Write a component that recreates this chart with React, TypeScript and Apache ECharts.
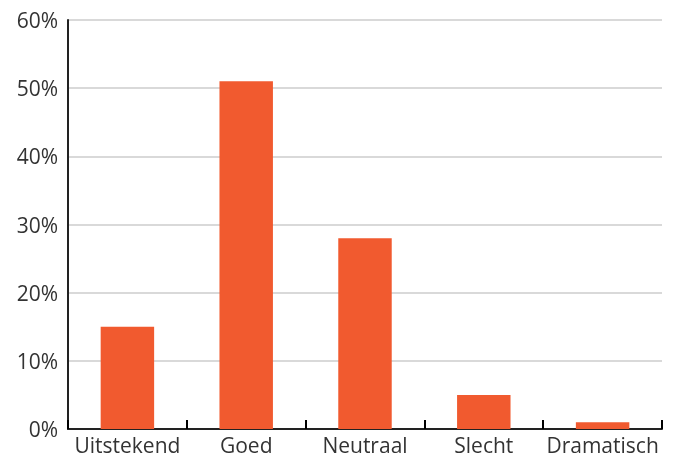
import React, { useEffect, useRef } from "react";
import * as echarts from "echarts";

const categories = ["Uitstekend", "Goed", "Neutraal", "Slecht", "Dramatisch"];
const values = [15, 51, 28, 5, 1];
const yTicks = [0, 10, 20, 30, 40, 50, 60];

export default function App() {
  const ref = useRef<HTMLDivElement>(null);
  useEffect(() => {
    const chart = echarts.init(ref.current!, undefined, { renderer: "svg" });
    chart.setOption({
      animation: false,
      grid: { left: 68, right: 12, top: 20, bottom: 30, containLabel: false },
      xAxis: {
        type: "category",
        data: categories,
        axisLine: { lineStyle: { color: "#222", width: 2 } },
        axisTick: { show: true, inside: true, length: 9, interval: 0, lineStyle: { color: "#000", width: 2 } },
        axisLabel: { color: "#333", fontSize: 21, fontFamily: "Open Sans", margin: 5, interval: 0 },
      },
      yAxis: {
        type: "value",
        min: yTicks[0],
        max: yTicks[yTicks.length - 1],
        interval: 10,
        axisLine: { show: true, lineStyle: { color: "#222", width: 2 } },
        axisTick: { show: false },
        axisLabel: { color: "#333", fontSize: 21, fontFamily: "Open Sans", margin: 10, formatter: "{value}%" },
        splitLine: { lineStyle: { color: "#cccccc", width: 1.5 } },
      },
      series: [
        {
          type: "bar",
          data: values,
          barWidth: "45%",
          itemStyle: { color: "#F15A2F" },
        },
      ],
    });
    return () => chart.dispose();
  }, []);
  return <div ref={ref} style={{ position: "fixed", left: 0, top: 0, width: 674, height: 459 }} />;
}
